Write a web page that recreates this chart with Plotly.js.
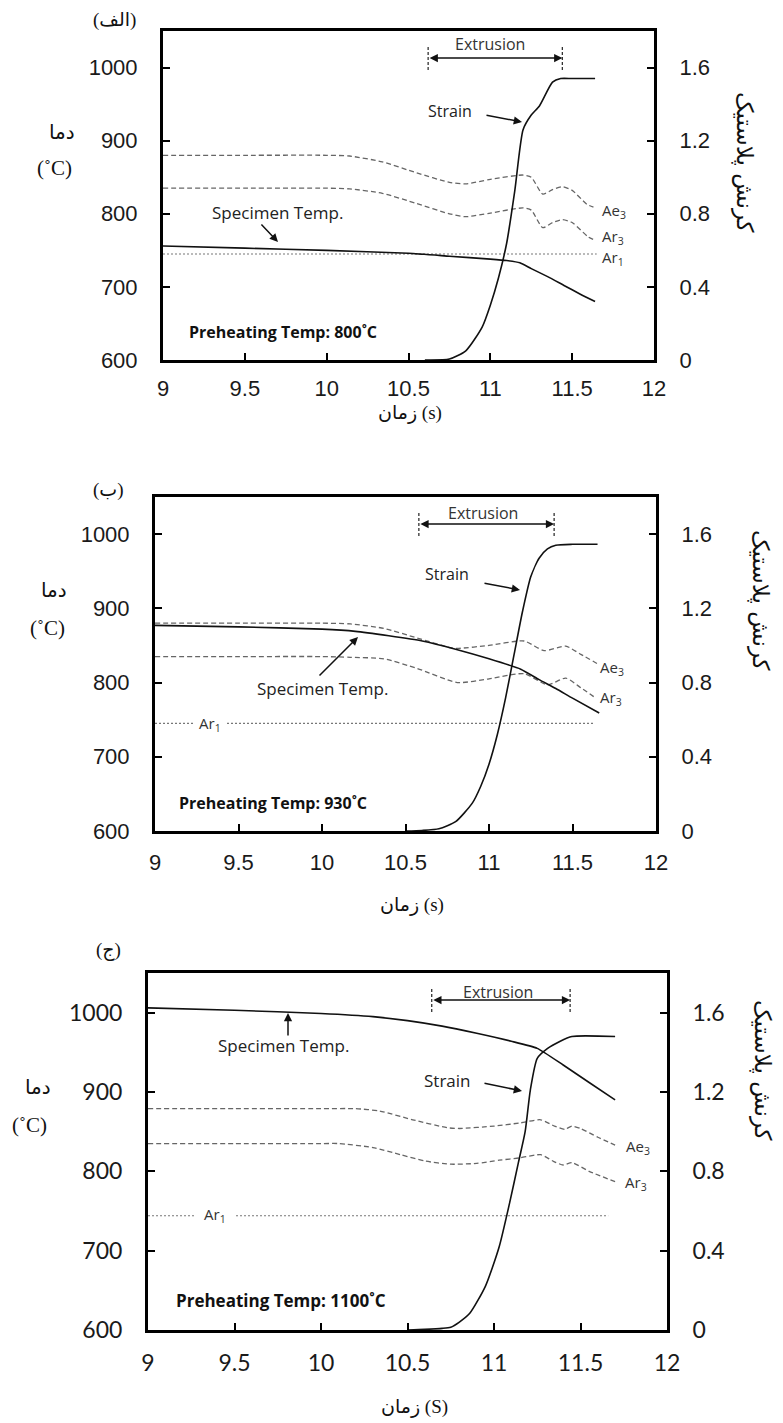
<!DOCTYPE html>
<html>
<head>
<meta charset="utf-8">
<script src="https://cdn.plot.ly/plotly-3.0.1.min.js"></script>
<style>html,body{margin:0;padding:0;background:#fff}#chart{width:783px;height:1423px}</style>
</head>
<body>
<div id="chart"></div>
<script>
// ---------- shared ticks ----------
const timeTicks = [9, 9.5, 10, 10.5, 11, 11.5, 12];
const timeTickLabels = ['9', '9.5', '10', '10.5', '11', '11.5', '12'];
const tempTicks = [600, 700, 800, 900, 1000];
const tempTickLabels = ['600', '700', '800', '900', '1000'];
const strainTicks = [0, 0.4, 0.8, 1.2, 1.6];
const strainTickLabels = ['0', '0.4', '0.8', '1.2', '1.6'];

// ---------- panel (الف) : preheating 800 C ----------
const p1SpecTime = [9, 9.5, 10, 10.5, 10.75, 11.0, 11.1, 11.18, 11.25, 11.35, 11.45, 11.55, 11.64];
const p1SpecTemp = [756, 753, 750, 746, 742, 738, 736, 733, 725, 714, 702, 690, 680];
const p1Ae3Time = [9, 9.5, 10, 10.14, 10.34, 10.55, 10.75, 10.85, 11.0, 11.2, 11.25, 11.32, 11.38, 11.44, 11.5, 11.59, 11.63];
const p1Ae3Temp = [880, 880, 880, 879, 871, 856, 843, 841, 847, 853, 850, 827, 833, 837, 832, 813, 809];
const p1Ar3Time = [9, 9.5, 10, 10.14, 10.34, 10.55, 10.75, 10.85, 11.0, 11.2, 11.25, 11.32, 11.38, 11.44, 11.5, 11.6, 11.64];
const p1Ar3Temp = [835, 835, 835, 834, 828, 814, 800, 796, 801, 808, 805, 781, 788, 792, 788, 768, 764];
const p1Ar1Time = [9, 11.65];
const p1Ar1Temp = [745, 745];
const p1StrainTime = [10.6, 10.75, 10.85, 10.95, 11.0, 11.05, 11.1, 11.15, 11.2, 11.25, 11.3, 11.38, 11.43, 11.5, 11.64];
const p1Strain = [0, 0.005, 0.05, 0.18, 0.30, 0.45, 0.64, 0.93, 1.26, 1.34, 1.39, 1.52, 1.54, 1.54, 1.54];
const p1Extrusion = [10.62, 11.44];

// ---------- panel (ب) : preheating 930 C ----------
const p2SpecTime = [9, 9.5, 10, 10.2, 10.4, 10.6, 10.8, 11.0, 11.19, 11.3, 11.4, 11.5, 11.66];
const p2SpecTemp = [877, 875, 872, 869, 863, 856, 845, 832, 818, 804, 792, 779, 759];
const p2Ae3Time = [9, 9.5, 10, 10.17, 10.37, 10.57, 10.77, 10.81, 11.0, 11.21, 11.33, 11.46, 11.55, 11.66];
const p2Ae3Temp = [880, 880, 880, 879, 873, 860, 847, 846, 850, 856, 843, 849, 838, 824];
const p2Ar3Time = [9, 9.5, 10, 10.17, 10.37, 10.57, 10.81, 11.0, 11.21, 11.35, 11.46, 11.55, 11.64];
const p2Ar3Temp = [835, 835, 835, 834, 832, 819, 800, 805, 812, 797, 806, 793, 779];
const p2Ar1Time = [9, 11.63];
const p2Ar1Temp = [745, 745];
const p2StrainTime = [10.5, 10.6, 10.7, 10.8, 10.9, 10.95, 11.0, 11.05, 11.1, 11.15, 11.2, 11.25, 11.3, 11.35, 11.4, 11.5, 11.65];
const p2Strain = [0, 0.003, 0.012, 0.05, 0.15, 0.24, 0.36, 0.52, 0.72, 0.95, 1.18, 1.37, 1.47, 1.52, 1.54, 1.545, 1.545];
const p2Extrusion = [10.58, 11.39];

// ---------- panel (ج) : preheating 1100 C ----------
const p3SpecTime = [9, 9.5, 10, 10.3, 10.5, 10.7, 10.9, 11.1, 11.25, 11.4, 11.55, 11.7];
const p3SpecTemp = [1006, 1003, 999, 995, 990, 983, 974, 964, 955, 934, 912, 890];
const p3Ae3Time = [9, 9.5, 10, 10.2, 10.34, 10.53, 10.73, 10.8, 11.0, 11.15, 11.27, 11.35, 11.41, 11.45, 11.5, 11.6, 11.7];
const p3Ae3Temp = [879, 879, 879, 879, 876, 865, 855, 854, 857, 861, 865, 857, 853, 857, 854, 843, 833];
const p3Ar3Time = [9, 9.5, 10, 10.1, 10.3, 10.46, 10.6, 10.75, 10.9, 11.03, 11.15, 11.27, 11.34, 11.4, 11.45, 11.55, 11.7];
const p3Ar3Temp = [835, 835, 835, 835, 830, 821, 813, 809, 810, 814, 817, 821, 813, 808, 811, 800, 787];
const p3Ar1Time = [9, 11.66];
const p3Ar1Temp = [744, 744];
const p3StrainTime = [10.5, 10.6, 10.7, 10.75, 10.8, 10.86, 10.95, 11.03, 11.09, 11.14, 11.18, 11.21, 11.25, 11.31, 11.38, 11.45, 11.7];
const p3Strain = [0, 0.003, 0.008, 0.014, 0.04, 0.084, 0.22, 0.42, 0.64, 0.84, 1.0, 1.21, 1.37, 1.42, 1.455, 1.48, 1.48];
const p3Extrusion = [10.64, 11.44];

const preheatLabels = ['Preheating Temp: 800˚C', 'Preheating Temp: 930˚C', 'Preheating Temp: 1100˚C'];
const panelLabels = ['(الف)', '(ب)', '(ج)'];
const xTitles = ['زمان (s)', 'زمان (s)', 'زمان (S)'];

// ---------- layout helpers ----------
const W = 783, H = 1423;
const PX = x => x / W;
const PY = y => 1 - y / H;

const panels = [
  {spec:[p1SpecTime,p1SpecTemp], ae3:[p1Ae3Time,p1Ae3Temp], ar3:[p1Ar3Time,p1Ar3Temp], ar1:[p1Ar1Time,p1Ar1Temp], strain:[p1StrainTime,p1Strain], ext:p1Extrusion,
   box:{l:163, r:654, t:31, b:360}, font:'Liberation Sans, Arial, sans-serif', fsize:22},
  {spec:[p2SpecTime,p2SpecTemp], ae3:[p2Ae3Time,p2Ae3Temp], ar3:[p2Ar3Time,p2Ar3Temp], ar1:[p2Ar1Time,p2Ar1Temp], strain:[p2StrainTime,p2Strain], ext:p2Extrusion,
   box:{l:155, r:656, t:497, b:831}, font:'Liberation Sans, Arial, sans-serif', fsize:22},
  {spec:[p3SpecTime,p3SpecTemp], ae3:[p3Ae3Time,p3Ae3Temp], ar3:[p3Ar3Time,p3Ar3Temp], ar1:[p3Ar1Time,p3Ar1Temp], strain:[p3StrainTime,p3Strain], ext:p3Extrusion,
   box:{l:148, r:667, t:973, b:1330}, font:'Lato, sans-serif', fsize:23}
];

const traces = [];
const layout = {
  width: W, height: H, margin:{l:0,r:0,t:0,b:0},
  paper_bgcolor:'#fff', plot_bgcolor:'#fff', showlegend:false,
  annotations: [], shapes: []
};

const solid = {color:'#111', width:1.6};
const dashed = {color:'#666', width:1.3, dash:'5px,3px'};
const dotted = {color:'#777', width:1.2, dash:'2px,2px'};

panels.forEach((p, i) => {
  const xn = i === 0 ? 'x' : 'x' + (i + 1);
  const yT = 'y' + (i === 0 ? '' : (2 * i + 1));
  const yS = 'y' + (2 * i + 2);
  const xKey = i === 0 ? 'xaxis' : 'xaxis' + (i + 1);
  const yTKey = i === 0 ? 'yaxis' : 'yaxis' + (2 * i + 1);
  const ySKey = 'yaxis' + (2 * i + 2);
  const xd = [PX(p.box.l), PX(p.box.r)];
  const yd = [PY(p.box.b), PY(p.box.t)];
  const tf = {family:p.font, size:p.fsize, color:'#1a1a1a'};
  const common = {ticks:'inside', ticklen:7, tickwidth:2, tickcolor:'#000', showline:true, linewidth:3,
    linecolor:'#000', showgrid:false, zeroline:false, tickfont:tf, fixedrange:true};
  layout[xKey] = Object.assign({}, common, {domain:xd, range:[9,12], tickvals:timeTicks, ticktext:timeTickLabels,
    anchor:yT, mirror:true, ticklabelstandoff:i === 0 ? 7 : 10});
  layout[yTKey] = Object.assign({}, common, {domain:yd, range:[600,1050], tickvals:tempTicks, ticktext:tempTickLabels,
    anchor:xn, ticklabelstandoff:18});
  layout[ySKey] = Object.assign({}, common, {domain:yd, range:[0,1.8], tickvals:strainTicks, ticktext:strainTickLabels,
    anchor:xn, overlaying:yT, side:'right', ticklabelstandoff:18});

  traces.push({x:p.ar1[0], y:p.ar1[1], xaxis:xn, yaxis:yT, mode:'lines', line:dotted, hoverinfo:'skip'});
  traces.push({x:p.ae3[0], y:p.ae3[1], xaxis:xn, yaxis:yT, mode:'lines', line:Object.assign({shape:'spline', smoothing:0.6}, dashed), hoverinfo:'skip'});
  traces.push({x:p.ar3[0], y:p.ar3[1], xaxis:xn, yaxis:yT, mode:'lines', line:Object.assign({shape:'spline', smoothing:0.6}, dashed), hoverinfo:'skip'});
  traces.push({x:p.spec[0], y:p.spec[1], xaxis:xn, yaxis:yT, mode:'lines', line:Object.assign({shape:'spline', smoothing:0.5}, solid), hoverinfo:'skip'});
  traces.push({x:p.strain[0], y:p.strain[1], xaxis:xn, yaxis:yS, mode:'lines', line:Object.assign({shape:'spline', smoothing:0.6}, solid), hoverinfo:'skip'});

  // Extrusion markers (dashed verticals + double arrow)
  const extTop = p.box.t + 14, extBot = p.box.t + 39, extMid = p.box.t + 27;
  p.ext.forEach(t => layout.shapes.push({type:'line', xref:xn, yref:'paper', x0:t, x1:t, y0:PY(extBot), y1:PY(extTop),
    line:{color:'#333', width:1.3, dash:'3px,2px'}}));
  layout.annotations.push({xref:xn, yref:'paper', x:p.ext[1], y:PY(extMid), axref:xn, ax:p.ext[0], ayref:'pixel', ay:0,
    text:'', showarrow:true, arrowhead:2, startarrowhead:2, arrowside:'end+start', arrowsize:1.1, startarrowsize:1.1, arrowwidth:1.5, arrowcolor:'#111'});
});

const inFont = {family:'Open Sans, sans-serif', size:16, color:'#222'};
const specFont = {family:'Open Sans, sans-serif', size:17, color:'#222'};
const extFont = {family:'Open Sans, sans-serif', size:16, color:'#333'};
const smallFont = {family:'Open Sans, sans-serif', size:15, color:'#333'};
const boldFont = {family:'Open Sans, sans-serif', size:16, color:'#111'};
function txt(text, x, y, font, xanchor, extra) {
  layout.annotations.push(Object.assign({text:text, xref:'paper', yref:'paper', x:PX(x), y:PY(y), showarrow:false,
    font:font, xanchor:xanchor || 'center', yanchor:'middle'}, extra || {}));
}
function arrow(tx, ty, hx, hy) {
  layout.annotations.push({text:'', xref:'paper', yref:'paper', x:PX(hx), y:PY(hy), ax:tx - hx, ay:ty - hy,
    showarrow:true, arrowhead:2, arrowsize:1.1, arrowwidth:1.5, arrowcolor:'#111'});
}

// panel 1 texts
txt('Extrusion', 490, 44, extFont);
txt('Strain', 450, 111, inFont);
arrow(485, 115, 522, 122);
txt('Specimen Temp.', 277, 212, specFont);
arrow(260, 223, 278, 242);
txt('Ae<sub>3</sub>', 600, 211, smallFont, 'left');
txt('Ar<sub>3</sub>', 600, 237, smallFont, 'left');
txt('Ar<sub>1</sub>', 600, 258, smallFont, 'left');
txt('<b>' + preheatLabels[0] + '</b>', 187, 332, boldFont, 'left');

// panel 2 texts
txt('Extrusion', 483, 513, extFont);
txt('Strain', 447, 574, inFont);
arrow(483, 583, 520, 590);
txt('Specimen Temp.', 322, 688, specFont);
arrow(318, 677, 358, 637);
txt('Ae<sub>3</sub>', 598, 668, smallFont, 'left');
txt('Ar<sub>3</sub>', 598, 698, smallFont, 'left');
txt('Ar<sub>1</sub>', 210, 724, smallFont, 'center', {bgcolor:'#fff', borderpad:5});
txt('<b>' + preheatLabels[1] + '</b>', 177, 803, boldFont, 'left');

// panel 3 texts
txt('Extrusion', 498, 992, extFont);
txt('Strain', 447, 1080, specFont);
arrow(483, 1083, 522, 1091);
txt('Specimen Temp.', 283, 1045, specFont);
arrow(288, 1037, 288, 1013);
txt('Ae<sub>3</sub>', 624, 1147, smallFont, 'left');
txt('Ar<sub>3</sub>', 623, 1183, smallFont, 'left');
txt('Ar<sub>1</sub>', 215, 1215, smallFont, 'center', {bgcolor:'#fff', borderpad:8});
txt('<b>' + preheatLabels[2] + '</b>', 174, 1300, {family:'Open Sans, sans-serif', size:17, color:'#111'}, 'left');

// outer titles
const arFont = {family:'Liberation Serif, DejaVu Sans, serif', size:19, color:'#111'};
const arSmall = {family:'DejaVu Sans, sans-serif', size:20, color:'#111'};
const outer = [
  {pl:[114, 20], dm:[62, 132], c:[54, 168], rt:[745, 162], xt:[410, 413]},
  {pl:[108, 490], dm:[54, 590], c:[47, 628], rt:[760, 600], xt:[412, 905]},
  {pl:[108, 950], dm:[38, 1087], c:[30, 1125], rt:[763, 1070], xt:[415, 1407]}
];
outer.forEach((o, i) => {
  txt(panelLabels[i], o.pl[0], o.pl[1], arFont);
  txt('دما', o.dm[0], o.dm[1], arSmall);
  txt('(˚C)', o.c[0], o.c[1], {family:'Liberation Serif, serif', size:21, color:'#111'});
  txt('کرنش پلاستیک', o.rt[0], o.rt[1], {family:'DejaVu Sans, sans-serif', size:23, color:'#111'}, 'center', {textangle:90});
  txt(xTitles[i], o.xt[0], o.xt[1], arFont);
});

Plotly.newPlot('chart', traces, layout, {staticPlot:true, displayModeBar:false});
</script>
</body>
</html>
